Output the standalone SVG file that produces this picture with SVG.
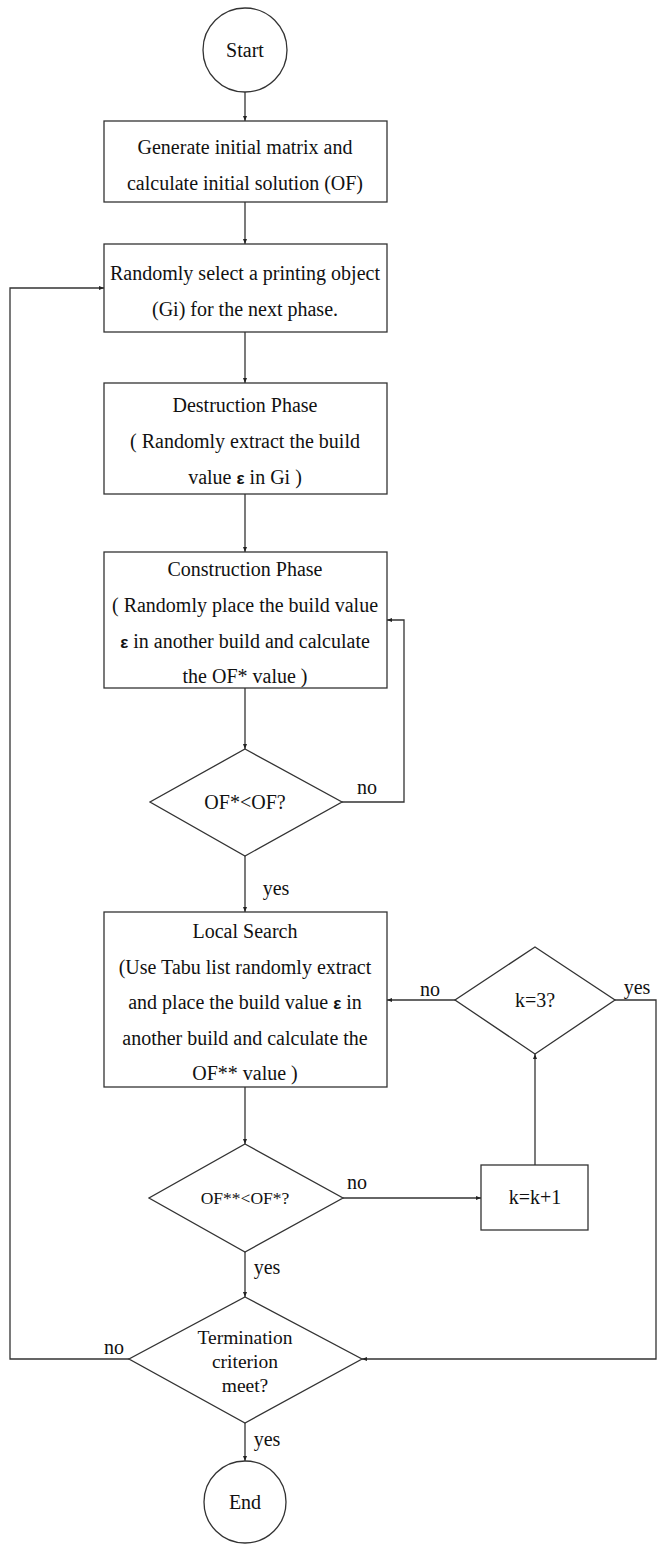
<svg xmlns="http://www.w3.org/2000/svg" width="657" height="1544" viewBox="0 0 657 1544">
<style>
.s{fill:#fff;stroke:#333;stroke-width:1.3}
.c{fill:none;stroke:#333;stroke-width:1.3}
text{font-family:"Liberation Serif","Times New Roman",serif;font-size:20px;fill:#111;text-anchor:middle}
.e{font-family:"Liberation Sans",Arial,sans-serif;font-weight:bold;font-size:17px}
</style>
<defs>
<marker id="a" viewBox="0 0 10 10" refX="10" refY="5" markerWidth="5" markerHeight="5" orient="auto" markerUnits="userSpaceOnUse"><path d="M0,1 L10,5 L0,9 z" fill="#222"/></marker>
</defs>
<rect width="657" height="1544" fill="#fff"/>
<g id="connectors">
<path class="c" d="M245,92 V121" marker-end="url(#a)"/>
<path class="c" d="M245,202 V244" marker-end="url(#a)"/>
<path class="c" d="M245,332 V383" marker-end="url(#a)"/>
<path class="c" d="M245,494 V552" marker-end="url(#a)"/>
<path class="c" d="M245,688 V749" marker-end="url(#a)"/>
<path class="c" d="M245,856 V912" marker-end="url(#a)"/>
<path class="c" d="M342,802 H404 V620 H387" marker-end="url(#a)"/>
<path class="c" d="M245,1087 V1144" marker-end="url(#a)"/>
<path class="c" d="M343,1198 H481" marker-end="url(#a)"/>
<path class="c" d="M535,1165 V1054" marker-end="url(#a)"/>
<path class="c" d="M455,1000 H387" marker-end="url(#a)"/>
<path class="c" d="M615,1000 H656 V1359 H362" marker-end="url(#a)"/>
<path class="c" d="M245,1252 V1297" marker-end="url(#a)"/>
<path class="c" d="M129,1359 H10 V288 H104" marker-end="url(#a)"/>
<path class="c" d="M245,1423 V1461" marker-end="url(#a)"/>
<text x="367" y="794">no</text>
<text x="276" y="895">yes</text>
<text x="430" y="996">no</text>
<text x="637" y="994">yes</text>
<text x="357" y="1189">no</text>
<text x="267" y="1274">yes</text>
<text x="114" y="1354">no</text>
<text x="267" y="1446">yes</text>
</g>
<g id="start"><circle class="s" cx="245" cy="50" r="42"/><text x="245" y="57">Start</text></g>
<g id="init"><rect class="s" x="104" y="121" width="283" height="81"/>
<text x="245" y="154">Generate initial matrix and</text>
<text x="245" y="190">calculate initial solution (OF)</text></g>
<g id="select"><rect class="s" x="104" y="244" width="283" height="88"/>
<text x="245" y="280">Randomly select a printing object</text>
<text x="245" y="316">(Gi) for the next phase.</text></g>
<g id="destruction"><rect class="s" x="104" y="383" width="283" height="111"/>
<text x="245" y="412">Destruction Phase</text>
<text x="245" y="448">( Randomly extract the build</text>
<text x="245" y="484">value <tspan class="e">ε</tspan> in Gi )</text></g>
<g id="construction"><rect class="s" x="104" y="552" width="283" height="136"/>
<text x="245" y="576">Construction Phase</text>
<text x="245" y="612">( Randomly place the build value</text>
<text x="245" y="648"><tspan class="e">ε</tspan> in another build and calculate</text>
<text x="245" y="683">the OF* value )</text></g>
<g id="check1"><polygon class="s" points="245,749 342,802 245,856 150,802"/><text x="245" y="809">OF*&lt;OF?</text></g>
<g id="local"><rect class="s" x="104" y="912" width="283" height="175"/>
<text x="245" y="938">Local Search</text>
<text x="245" y="974">(Use Tabu list randomly extract</text>
<text x="245" y="1009">and place the build value <tspan class="e">ε</tspan> in</text>
<text x="245" y="1045">another build and calculate the</text>
<text x="245" y="1080">OF** value  )</text></g>
<g id="k3"><polygon class="s" points="535,947 615,1000 535,1054 455,1000"/><text x="535" y="1007">k=3?</text></g>
<g id="check2"><polygon class="s" points="245,1144 343,1198 245,1252 149,1198"/><text x="245" y="1204" style="font-size:17.5px">OF**&lt;OF*?</text></g>
<g id="kinc"><rect class="s" x="481" y="1165" width="107" height="65"/><text x="535" y="1204">k=k+1</text></g>
<g id="term"><polygon class="s" points="245,1297 362,1359 245,1423 129,1359"/>
<text x="245" y="1344" style="font-size:19.5px">Termination</text>
<text x="245" y="1368" style="font-size:19.5px">criterion</text>
<text x="245" y="1392" style="font-size:19.5px">meet?</text></g>
<g id="end"><circle class="s" cx="245" cy="1502" r="41"/><text x="245" y="1509">End</text></g>
</svg>
